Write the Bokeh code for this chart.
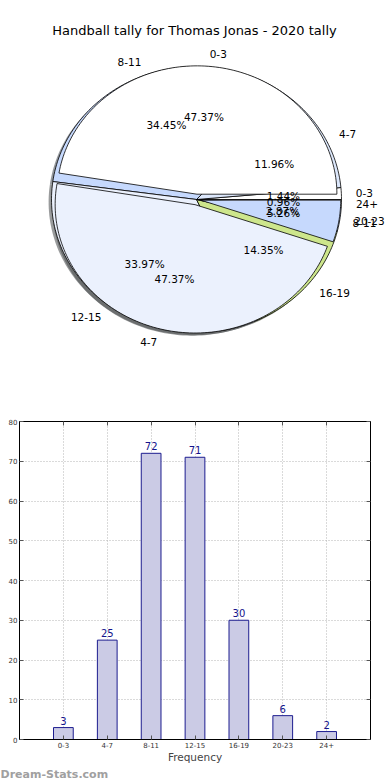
import numpy as np
from bokeh.plotting import figure
from bokeh.models import ColumnDataSource, FixedTicker, LinearAxis, Range1d, Title
from bokeh.embed import file_html
from bokeh.resources import INLINE
from bokeh.core.properties import value

# ---------------- data ----------------
title_text = "Handball tally for Thomas Jonas - 2020 tally"
categories = ["0-3", "4-7", "8-11", "12-15", "16-19", "20-23", "24+"]
counts = [3, 25, 72, 71, 30, 6, 2]

# second pie that is drawn over the first one in the reference
inner_labels = ["0-3", "4-7", "8-11"]
inner_counts = [9, 9, 1]

main_colors = ["#ffffff", "#dce7fb", "#c6d9fd", "#ebf1fd", "#cde68c", "#c6d9fd", "#ffffff"]
main_explode = [0, 0, 0, 0, 0, 0, 0]
inner_colors = ["#ffffff", "#ebf1fd", "#c6d9fd"]
inner_explode = [0.04, 0.04, 0.03]

FONT = "DejaVu Sans"

# ---------------- pie figure ----------------
PX_RX, PX_RY = 145.0, 133.0      # pixels per unit radius
FW, FH, TOP1 = 388, 356, 42      # frame size and space reserved for the title
CX, CY = 196.0, 157.0            # pie centre inside frame (px from left/top)

p1 = figure(frame_width=FW, frame_height=FH, x_axis_type=None, y_axis_type=None,
            x_range=Range1d(-CX / PX_RX, (FW - CX) / PX_RX),
            y_range=Range1d(-(FH - CY) / PX_RY, CY / PX_RY),
            output_backend="svg", toolbar_location=None,
            min_border=0, min_border_left=0, min_border_right=0,
            min_border_bottom=0, min_border_top=TOP1)
p1.title.text = title_text
p1.title.align = "center"
p1.title.offset = -1
p1.title.text_font = FONT
p1.title.text_font_size = "13px"
p1.title.text_font_style = "normal"
p1.title.text_color = "#000000"
p1.grid.visible = False
p1.outline_line_color = None


def pie_geometry(vals, radius, explode, colors):
    vals = np.asarray(vals, dtype=float)
    frac = vals / vals.sum()
    ends = np.cumsum(frac) * 2 * np.pi
    starts = ends - frac * 2 * np.pi
    xs, ys, mids, ox, oy = [], [], [], [], []
    for s, e, ex in zip(starts, ends, explode):
        m = 0.5 * (s + e)
        dx, dy = ex * np.cos(m), ex * np.sin(m)
        n = max(4, int(120 * (e - s) / np.pi) + 2)
        t = np.linspace(s, e, n)
        xs.append(list(np.concatenate([[dx], dx + radius * np.cos(t)])))
        ys.append(list(np.concatenate([[dy], dy + radius * np.sin(t)])))
        mids.append(m)
        ox.append(dx)
        oy.append(dy)
    mids = np.array(mids)
    ox = np.array(ox)
    oy = np.array(oy)
    shadow = ["#%02x%02x%02x" % tuple(int(0.3 * int(c[i:i + 2], 16)) for i in (1, 3, 5)) for c in colors]
    wedges = dict(xs=xs, ys=ys, color=list(colors), shadow=shadow,
                  sxs=[list(np.array(a) - 0.02) for a in xs],
                  sys=[list(np.array(a) - 0.02) for a in ys])
    lx = ox + 1.1 * radius * np.cos(mids)
    ly = oy + 1.1 * radius * np.sin(mids)
    px = ox + 0.6 * radius * np.cos(mids)
    py = oy + 0.6 * radius * np.sin(mids)
    pct = ["%.2f%%" % (100 * f) for f in frac]
    return wedges, lx, ly, px, py, pct


main = pie_geometry(counts, 1.0, main_explode, main_colors)
inner = pie_geometry(inner_counts, 0.965, inner_explode, inner_colors)

# shadows first (below all wedges, as in the reference)
for geo in (main, inner):
    src = ColumnDataSource(geo[0])
    p1.patches(xs="sxs", ys="sys", source=src, fill_color="shadow", fill_alpha=0.55, line_color=None)
for geo in (main, inner):
    src = ColumnDataSource(geo[0])
    p1.patches(xs="xs", ys="ys", source=src, fill_color="color", line_color="#000000",
               line_width=0.8, line_join="miter")

for geo, names in ((main, categories), (inner, inner_labels)):
    _, lx, ly, px, py, pct = geo
    left = lx >= 0
    for mask, align in ((left, "left"), (~left, "right")):
        src = ColumnDataSource(dict(x=lx[mask], y=ly[mask], t=[n for n, k in zip(names, mask) if k]))
        p1.text(x="x", y="y", text="t", source=src, text_align=align, text_baseline="middle",
                text_font=value(FONT), text_font_size="10.5px", text_color="#000000")
    src = ColumnDataSource(dict(x=px, y=py, t=pct))
    p1.text(x="x", y="y", text="t", source=src, text_align="center", text_baseline="middle",
            text_font=value(FONT), text_font_size="10.5px", text_color="#000000")

# ---------------- bar figure ----------------
xpos = np.arange(1, len(categories) + 1)
p2 = figure(frame_width=351, frame_height=318,
            x_range=Range1d(0, len(categories) + 1), y_range=Range1d(0, 80),
            output_backend="svg", toolbar_location=None,
            min_border_left=19, min_border_right=12, min_border_top=23, min_border_bottom=0)
bsrc = ColumnDataSource(dict(x=xpos, top=counts, lab=[str(c) for c in counts]))
p2.vbar(x="x", top="top", width=0.45, source=bsrc, fill_color="#cbcbe5",
        line_color="#1c1c8f", line_width=1)
p2.text(x="x", y="top", text="lab", source=bsrc, text_align="center", text_baseline="bottom",
        y_offset=-3, text_font=value(FONT), text_font_size="10px", text_color="#14148c")

xt = FixedTicker(ticks=list(xpos))
yt = FixedTicker(ticks=list(range(0, 81, 10)))
p2.xaxis.ticker = xt
p2.yaxis.ticker = yt
p2.xaxis.major_label_overrides = {int(k): v for k, v in zip(xpos, categories)}
p2.xaxis.axis_label = "Frequency"
p2.xaxis.axis_label_text_font = FONT
p2.xaxis.axis_label_text_font_size = "10.5px"
p2.xaxis.axis_label_text_font_style = "normal"
p2.xaxis.axis_label_text_line_height = 1.0
p2.xaxis.axis_label_standoff = 0
for ax in (p2.xaxis[0], p2.yaxis[0]):
    ax.major_tick_in = 4
    ax.major_tick_out = 0
    ax.minor_tick_line_color = None
    ax.major_label_text_font = FONT
    ax.major_label_text_font_size = "7px"
    ax.major_label_text_line_height = 1.0
    ax.major_label_text_color = "#333333"
    ax.major_label_standoff = 2
    ax.axis_line_color = "#000000"
    ax.major_tick_line_color = "#555555"

for loc, tick in (("right", yt), ("above", xt)):
    ax = LinearAxis(ticker=tick, major_tick_in=4, major_tick_out=0,
                    minor_tick_line_color=None, major_label_text_color=None,
                    major_label_standoff=0, axis_line_color="#000000",
                    major_tick_line_color="#555555")
    p2.add_layout(ax, loc)

p2.xgrid.ticker = xt
p2.ygrid.ticker = yt
p2.grid.grid_line_color = "#b4b4b4"
p2.grid.grid_line_dash = "1 2"
p2.grid.grid_line_width = 1
p2.outline_line_color = "#000000"

wm = Title(text="Dream-Stats.com", align="left", offset=-19, standoff=0,
           text_font=FONT, text_font_size="11px", text_line_height=1.0,
           text_color="#a0a0a0", text_font_style="bold")
p2.add_layout(wm, "below")

# two independent roots stacked vertically (no frame alignment between them)
open("out.html", "w").write(file_html([p1, p2], INLINE))
